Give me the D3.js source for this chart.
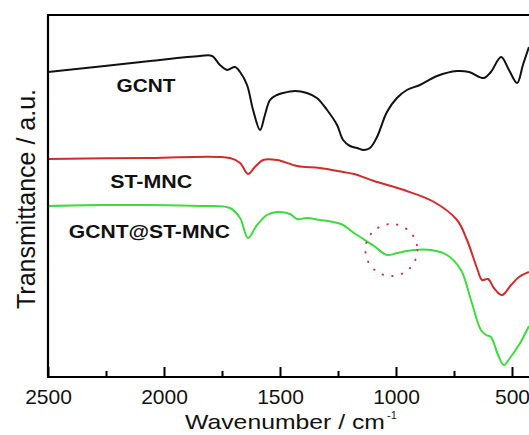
<!DOCTYPE html>
<html>
<head>
<meta charset="utf-8">
<script src="https://cdn.jsdelivr.net/npm/d3@7"></script>
<style>
  html, body { margin: 0; padding: 0; background: #fff; }
  svg { display: block; }
</style>
</head>
<body>
<svg id="chart" width="529" height="435"></svg>
<script>
// ---- data (wavenumber in cm^-1, transmittance in arbitrary units) ----
const gcntWn = [2500,2276,2060,1845,1793,1759,1728,1716,1694,1672,1642,1616,1586,1565,1543,1513,1487,1435,1384,1341,1297,1254,1228,1198,1168,1138,1112,1082,1039,996,953,897,823,737,685,621,591,547,513,478,453,427];
const gcntT  = [305,310.5,316,321,321,312,307,308,310,305,292,267,247,262,277,282,284,286,284,279,267,252,237,231,229,227,229,240,265,279,287,292,301,306,305,299,305,320,307,294,312,330];

const stmncWn = [2500,2060,1716,1672,1638,1608,1573,1513,1427,1328,1228,1181,1095,966,836,737,694,651,629,603,578,543,504,470,427];
const stmncT  = [218,219,219,214,203,210,217,217,211,209,205,203,196,187,175,157,137,109,97,98,89,82,92,100,105];

const hybWn = [2500,2276,2060,1845,1716,1672,1638,1599,1556,1513,1457,1427,1384,1328,1272,1228,1181,1095,1039,996,922,849,780,720,677,634,612,591,560,535,509,470,427];
const hybT  = [171,172,172,171,169,159,139,152,162,165,163,158,159,157,155,152,144,131,122,124,127,127,122,107,77,47,42,40,22,12,19,32,51];

const seriesNames = ["GCNT", "ST-MNC", "GCNT@ST-MNC"];
const seriesColors = ["#111111", "#d42a2a", "#3cdc3c"];
const majorTicks = [2500, 2000, 1500, 1000, 500];
const minorTicks = [2250, 1750, 1250, 750];
// highlighted region (dotted circle)
const markWn = [1020];
const markT = [127];
const markR = [112];

// ---- layout ----
const svg = d3.select("#chart");
const mLeft = 48, mTop = 15, mBottom = 377, mRight = 529;
const x = d3.scaleLinear().domain([2500, 500]).range([mLeft, 512]);
const y = d3.scaleLinear().domain([0, 362]).range([mBottom, mTop]);
const FONT = "'Liberation Sans', Arial, sans-serif";

svg.append("defs").append("clipPath").attr("id", "clip")
  .append("rect").attr("x", mLeft).attr("y", mTop).attr("width", mRight - mLeft).attr("height", mBottom - mTop);

const series = [
  {name: seriesNames[0], color: seriesColors[0], pts: gcntWn.map((w, i) => [w, gcntT[i]])},
  {name: seriesNames[1], color: seriesColors[1], pts: stmncWn.map((w, i) => [w, stmncT[i]])},
  {name: seriesNames[2], color: seriesColors[2], pts: hybWn.map((w, i) => [w, hybT[i]])}
];

const line = d3.line().x(d => x(d[0])).y(d => y(d[1])).curve(d3.curveCatmullRom.alpha(0.5));

const g = svg.append("g").attr("clip-path", "url(#clip)");
g.selectAll("path.s").data(series).join("path")
  .attr("class", "s")
  .attr("d", d => line(d.pts))
  .attr("fill", "none")
  .attr("stroke", d => d.color)
  .attr("stroke-width", 2)
  .attr("stroke-linejoin", "round");

// dotted circle
g.selectAll("ellipse.mark").data(markWn).join("ellipse")
  .attr("class", "mark")
  .attr("cx", (d) => x(d))
  .attr("cy", (d, i) => y(markT[i]))
  .attr("rx", (d, i) => x(d - markR[i]) - x(d))
  .attr("ry", (d, i) => x(d - markR[i]) - x(d))
  .attr("fill", "none")
  .attr("stroke", "#c8404a")
  .attr("stroke-width", 2)
  .attr("stroke-linecap", "round")
  .attr("stroke-dasharray", "0.5 9.3");

// frame: top and left
svg.append("line").attr("x1", mLeft).attr("x2", mRight).attr("y1", mTop).attr("y2", mTop)
  .attr("stroke", "#000").attr("stroke-width", 2.2);
svg.append("line").attr("x1", mLeft).attr("x2", mLeft).attr("y1", mTop - 1).attr("y2", mBottom + 1)
  .attr("stroke", "#000").attr("stroke-width", 2.2);

// x axis
const xAxis = d3.axisBottom(x).tickValues(majorTicks).tickSize(-10).tickPadding(12.5).tickFormat(d3.format("d"));
const ax = svg.append("g").attr("transform", `translate(0,${mBottom})`).call(xAxis);
ax.select(".domain").remove();
ax.append("line").attr("x1", mLeft - 1).attr("x2", mRight).attr("y1", 0).attr("y2", 0)
  .attr("stroke", "#000").attr("stroke-width", 2.2);
ax.selectAll(".tick line").attr("stroke", "#000").attr("stroke-width", 2);
ax.selectAll(".tick text")
  .attr("fill", "#111")
  .style("font-family", FONT)
  .style("font-size", "21px");
const minorAxis = d3.axisBottom(x).tickValues(minorTicks).tickSize(-6).tickFormat("");
const mx = svg.append("g").attr("transform", `translate(0,${mBottom})`).call(minorAxis);
mx.select(".domain").remove();
mx.selectAll(".tick line").attr("stroke", "#000").attr("stroke-width", 2);

// axis titles
svg.append("text")
  .attr("x", 185).attr("y", 429)
  .attr("textLength", 200)
  .attr("lengthAdjust", "spacingAndGlyphs")
  .style("font-family", FONT)
  .style("font-size", "21px")
  .attr("fill", "#111")
  .text("Wavenumber / cm");
svg.append("text")
  .attr("x", 387).attr("y", 419)
  .style("font-family", FONT)
  .style("font-size", "11px")
  .attr("fill", "#111")
  .text("-1");

svg.append("text")
  .attr("transform", "translate(35,199) rotate(-90)")
  .attr("text-anchor", "middle")
  .style("font-family", FONT)
  .style("font-size", "25px")
  .attr("fill", "#111")
  .text("Transmittance / a.u.");

// series labels
const labelWn = [2205, 2232, 2410];
const labelT = [285, 189, 139];
const labelLen = [59, 82, 161];
svg.selectAll("text.lab").data(seriesNames).join("text")
  .attr("class", "lab")
  .attr("x", (d, i) => x(labelWn[i]))
  .attr("y", (d, i) => y(labelT[i]))
  .attr("textLength", (d, i) => labelLen[i])
  .attr("lengthAdjust", "spacingAndGlyphs")
  .style("font-family", FONT)
  .style("font-size", "19px")
  .style("font-weight", "bold")
  .attr("fill", "#111")
  .text(d => d);
</script>
</body>
</html>
